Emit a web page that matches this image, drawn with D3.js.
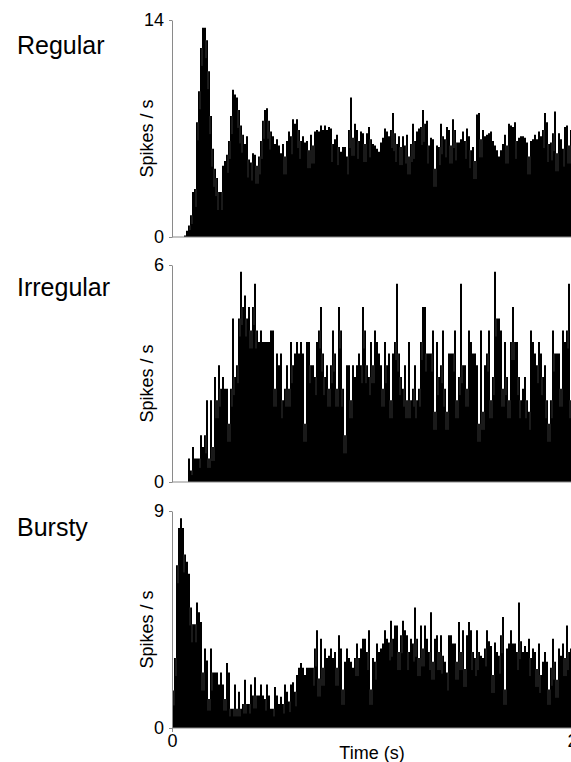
<!DOCTYPE html>
<html>
<head>
<meta charset="utf-8">
<script src="https://cdn.jsdelivr.net/npm/d3@7"></script>
<style>
  html, body { margin: 0; padding: 0; background: #fff; }
  svg { display: block; }
  text { font-family: "Liberation Sans", Arial, sans-serif; fill: #000; }
</style>
</head>
<body>
<svg id="chart" width="571" height="762"></svg>
<script>
// Peri-stimulus time histograms, 10 ms bins over 0–2 s (spikes / s)
const binWidth = 0.01;
const timeTicks = [0, 2];

const regularRate = [
  0,0,0,0,0,0,0.1,0.4,0.75,1.4,
  2.9,3.1,7.4,9.4,12.2,13.5,13.5,12.7,10.7,7.8,
  5.7,4.4,3.8,2.9,2.9,4.6,4.9,5.3,6.2,7.8,
  9.5,9.2,9.0,8.2,7.2,6.6,6.0,6.5,5.0,4.8,
  5.4,5.3,4.6,5.2,6.2,7.5,8.2,8.3,7.5,6.8,
  6.5,6.0,6.3,5.9,5.4,6.0,5.2,6.2,6.8,6.5,
  7.6,7.3,7.6,6.9,6.2,6.5,6.1,6.2,5.6,6.6,
  5.9,6.8,6.9,6.8,7.2,6.9,7.2,6.9,7.1,
  7.0,6.0,6.3,6.6,5.8,5.5,5.8,5.8,5.2,6.9,
  9.0,6.4,7.3,6.9,6.2,6.8,6.7,6.0,6.7,7.1,
  6.3,6.0,5.9,5.7,5.5,6.1,6.4,7.0,6.8,6.5,
  6.9,8.0,6.7,6.0,6.5,5.8,6.5,5.9,6.6,5.2,
  6.0,7.3,6.2,6.8,7.0,7.1,8.2,7.3,7.5,5.9,
  6.4,6.3,4.4,5.9,5.8,7.3,6.5,6.3,7.1,6.9,
  5.9,7.6,6.9,6.1,6.1,6.3,6.8,6.2,7.0,6.5,
  5.6,5.8,4.9,7.9,8.0,6.3,6.9,6.5,6.6,6.7,
  6.8,6.2,5.9,5.6,5.2,5.6,6.0,6.6,5.9,7.3,
  7.2,7.1,7.4,6.2,6.4,6.5,6.5,6.4,6.1,5.2,
  6.2,6.3,6.6,6.3,6.8,6.5,6.9,8.0,7.4,6.0,
  6.1,6.7,8.1,5.4,6.7,6.3,5.7,7.1,7.2,5.9,
  6.9
];

const irregularRate = [
  0,0,0,0,0,0,0,0,
  0.65,0.32,0.97,0.65,0.65,0.65,1.29,0.97,1.29,2.26,
  0.65,2.26,0.97,2.90,2.26,3.23,2.58,2.90,2.58,2.58,
  1.61,2.58,4.52,2.90,3.23,4.52,5.81,4.84,5.16,4.52,
  4.84,4.19,4.84,5.48,4.19,3.87,4.19,3.87,3.87,3.87,
  3.87,4.19,4.19,2.58,3.55,3.23,3.55,2.26,2.58,3.23,
  2.58,3.87,3.23,3.55,3.87,3.55,3.87,3.55,1.61,3.87,
  3.87,3.23,3.23,2.90,3.87,4.19,4.84,3.55,2.90,3.23,
  2.58,
  3.23,4.19,3.55,2.58,4.84,4.19,2.58,1.29,3.23,3.23,
  2.26,3.23,2.90,3.23,3.55,3.23,4.84,4.19,3.23,2.90,
  3.87,3.23,4.19,3.87,3.55,3.23,2.58,3.87,3.23,3.55,
  2.26,3.55,3.87,5.48,3.55,2.90,2.58,3.23,2.26,3.87,
  2.26,2.58,3.23,2.26,2.58,3.87,4.84,4.84,3.55,3.55,
  3.55,4.19,1.94,3.87,2.90,3.23,4.19,2.58,1.94,3.55,
  3.55,3.55,4.19,2.26,2.90,5.48,3.23,3.23,2.58,4.19,
  3.87,3.55,3.55,3.23,1.61,4.19,1.94,3.23,3.55,4.19,
  2.26,2.90,5.81,4.52,4.52,4.19,2.58,3.87,2.90,2.26,
  3.87,4.84,3.87,3.87,2.90,2.26,2.58,2.90,2.26,1.94,
  4.19,3.87,3.55,3.23,3.87,3.55,2.90,3.23,2.26,1.61,
  2.26,4.19,3.55,3.55,3.55,2.58,4.19,3.87,4.19,5.48,
  2.26
];

const burstyRate = [
  1.56,2.9,6.75,8.3,8.7,8.3,7.2,6.9,6.4,5.0,
  4.3,4.3,5.2,4.8,4.4,2.3,3.3,2.8,1.2,3.3,
  2.3,2.3,2.3,1.8,2.3,1.8,1.2,2.7,2.3,0.8,
  0.8,1.8,0.8,1.5,0.8,1.0,2.0,1.0,1.0,1.8,
  1.35,2.1,1.35,1.35,1.8,1.35,1.2,1.8,1.35,0.8,
  0.8,1.7,1.35,1.0,1.3,1.0,1.8,1.5,1.1,1.8,
  1.9,1.5,2.2,2.5,2.7,2.5,2.2,2.5,2.5,2.5,
  2.5,3.3,4.05,2.05,3.7,2.5,3.3,2.9,3.0,
  3.3,2.9,3.15,2.5,3.85,3.3,1.6,2.75,3.3,2.9,
  2.75,2.5,2.9,3.5,2.9,3.3,3.7,3.7,3.15,4.05,
  1.6,2.9,2.75,3.5,3.15,3.3,3.5,4.05,3.7,3.55,
  4.45,3.7,4.25,4.25,3.15,3.85,4.45,4.05,3.85,3.15,
  3.7,3.5,5.0,3.7,2.9,4.25,3.3,4.25,3.7,3.15,
  4.8,2.75,3.7,3.85,3.15,3.85,3.0,2.75,2.3,3.85,
  3.85,3.5,3.5,2.75,4.4,3.15,4.05,2.45,3.85,4.4,
  4.05,3.15,2.9,4.05,3.15,3.0,2.9,3.3,4.05,3.6,
  3.4,2.2,3.55,3.15,3.0,3.85,4.6,1.6,3.3,3.5,
  4.05,3.5,3.5,3.15,5.2,3.6,3.15,3.4,3.15,3.7,
  2.9,3.3,3.15,2.45,3.5,2.2,2.75,3.15,2.75,1.6,
  2.5,3.7,2.75,2.0,3.3,3.0,3.5,2.9,4.25,3.15,
  3.3
];

const panelTitles = ["Regular", "Irregular", "Bursty"];
const panelMax = [14, 6, 9];
const panelRates = [regularRate, irregularRate, burstyRate];

const svg = d3.select("#chart");
const axisColor = "#8a8a8a";
const tickFont = '"Liberation Sans", Arial, sans-serif';

const x = d3.scaleLinear().domain([0, 2]).range([172, 572]);

const layout = [
  { top: 20,  bottom: 237, titleY: 54 },
  { top: 265, bottom: 482, titleY: 296 },
  { top: 511, bottom: 728, titleY: 536 }
];

panelRates.forEach((rates, p) => {
  const L = layout[p];
  const y = d3.scaleLinear().domain([0, panelMax[p]]).range([L.bottom, L.top]);
  const g = svg.append("g");

  // histogram bars, one per 10 ms bin, drawn as a single stepped area
  const barArea = d3.area()
    .x(d => d[0])
    .y0(y(0))
    .y1(d => d[1])
    .curve(d3.curveLinear);
  const pts = [];
  rates.forEach((d, i) => {
    pts.push([x(i * binWidth), y(d)]);
    pts.push([x((i + 1) * binWidth), y(d)]);
  });
  g.append("path")
    .datum(pts)
    .attr("d", barArea)
    .attr("fill", "#000");

  // thin light seams where a bar steps down to a lower neighbour
  g.append("g")
    .selectAll("line")
    .data(rates.slice(1).map((d, i) => ({ i: i + 1, lo: Math.min(d, rates[i]), hi: Math.max(d, rates[i]) }))
      .filter(s => s.hi - s.lo > 0.6 && s.lo > 0))
    .join("line")
    .attr("x1", s => x(s.i * binWidth))
    .attr("x2", s => x(s.i * binWidth))
    .attr("y1", s => y(s.lo))
    .attr("y2", s => y(s.lo) + Math.min(18, (y(0) - y(s.lo)) * 0.4))
    .attr("stroke", "#fff")
    .attr("stroke-opacity", 0.35)
    .attr("stroke-width", 0.6);

  // y axis with the two end ticks
  const yAxis = g.append("g")
    .attr("transform", `translate(${x(0)},0)`)
    .call(d3.axisLeft(y).tickValues([0, panelMax[p]]).tickFormat(d3.format("d"))
      .tickSize(3).tickPadding(5).tickSizeOuter(0));
  yAxis.select(".domain").attr("stroke", axisColor);
  yAxis.selectAll(".tick line").attr("stroke", axisColor);
  yAxis.selectAll(".tick text")
    .style("font-family", tickFont)
    .style("font-size", "18px")
    .attr("fill", "#000");

  // baseline
  g.append("line")
    .attr("x1", x(0)).attr("x2", 571)
    .attr("y1", y(0)).attr("y2", y(0))
    .attr("stroke", axisColor);

  // y axis label
  g.append("text")
    .attr("transform", `translate(153,${(L.top + L.bottom) / 2 + 10}) rotate(-90)`)
    .attr("text-anchor", "middle")
    .style("font-size", "18px")
    .text("Spikes / s");

  // panel title
  g.append("text")
    .attr("x", 17)
    .attr("y", L.titleY)
    .style("font-size", "25px")
    .text(panelTitles[p]);

  // time axis on the last panel only
  if (p === panelRates.length - 1) {
    const xAxis = g.append("g")
      .attr("transform", `translate(0,${L.bottom})`)
      .call(d3.axisBottom(x).tickValues(timeTicks).tickFormat(d3.format("d"))
        .tickSize(4).tickPadding(2).tickSizeOuter(0));
    xAxis.select(".domain").remove();
    xAxis.selectAll(".tick line").attr("stroke", axisColor);
    xAxis.selectAll(".tick text")
      .style("font-family", tickFont)
      .style("font-size", "18px")
      .attr("fill", "#000");

    g.append("text")
      .attr("x", 372)
      .attr("y", 759)
      .attr("text-anchor", "middle")
      .style("font-size", "18px")
      .text("Time (s)");
  }
});
</script>
</body>
</html>
